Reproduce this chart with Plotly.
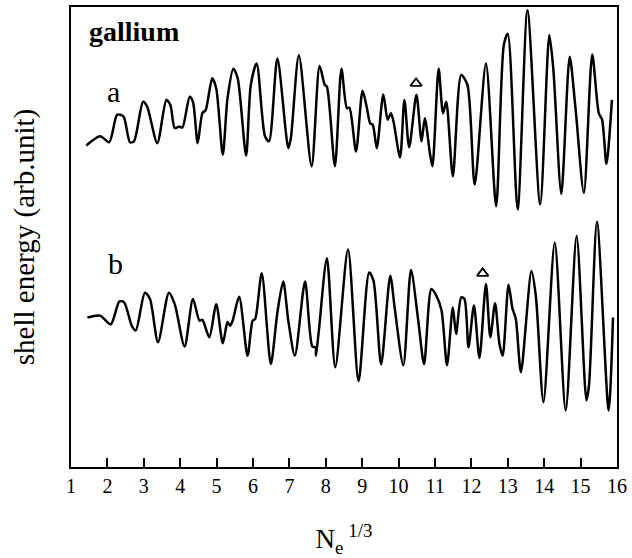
import plotly.graph_objects as go

# curve a: N_e^(1/3) and shell energy (arb. unit)
xa = [1.42, 1.80, 2.05, 2.27, 2.44, 2.62, 2.73, 2.98, 3.09, 3.37, 3.62, 3.73, 3.85, 3.97, 4.06,
      4.26, 4.35, 4.48, 4.61, 4.70, 4.88, 4.99, 5.17, 5.30, 5.46, 5.58, 5.81, 5.94, 6.10, 6.33,
      6.44, 6.67, 6.97, 7.04, 7.26, 7.61, 7.83, 7.97, 8.03, 8.25, 8.43, 8.58, 8.65, 8.83, 9.01,
      9.13, 9.22, 9.29, 9.40, 9.58, 9.70, 9.79, 9.86, 10.04, 10.16, 10.29, 10.49, 10.63, 10.72,
      10.86, 10.93, 11.10, 11.22, 11.31, 11.49, 11.72, 11.89, 12.09, 12.40, 12.68, 12.89, 13.00,
      13.27, 13.54, 13.89, 14.14, 14.25, 14.47, 14.70, 14.86, 15.09, 15.32, 15.50, 15.59, 15.71,
      15.86]
ya = [6.99, 7.19, 7.06, 7.66, 7.62, 7.06, 7.08, 7.94, 7.84, 7.04, 7.98, 7.87, 7.37, 7.40, 7.38,
      8.05, 7.94, 7.04, 7.69, 7.76, 8.45, 8.23, 6.79, 8.02, 8.66, 8.45, 6.77, 8.31, 8.77, 7.19,
      7.08, 8.88, 6.93, 7.15, 8.95, 6.54, 8.72, 8.31, 8.27, 6.54, 8.66, 7.80, 7.81, 6.86, 8.18,
      7.80, 7.47, 7.44, 6.93, 8.10, 7.55, 7.69, 7.51, 6.73, 7.98, 6.95, 8.09, 7.08, 7.58,
      6.82, 6.54, 8.66, 7.69, 7.94, 6.32, 8.52, 8.31, 6.14, 8.77, 5.67, 9.17, 9.42,
      5.60, 9.93, 5.71, 9.39, 8.66, 5.94, 8.92, 7.80, 5.96, 8.97, 7.69, 7.55, 6.59,
      7.98]

# curve b
xb = [1.45, 1.80, 2.09, 2.33, 2.46, 2.67, 2.78, 3.03, 3.17, 3.39, 3.69, 3.85, 4.12, 4.35, 4.53,
      4.61, 4.80, 4.99, 5.17, 5.30, 5.37, 5.44, 5.62, 5.85, 5.99, 6.06, 6.24, 6.49, 6.67, 6.83,
      6.97, 7.15, 7.43, 7.63, 7.72, 7.73, 7.81, 8.03, 8.26, 8.61, 8.90, 9.19, 9.31, 9.52, 9.77,
      9.90, 10.13, 10.34, 10.54, 10.70, 10.90, 11.04, 11.18, 11.33, 11.49, 11.58, 11.72, 11.81,
      11.92, 12.07, 12.22, 12.40, 12.52, 12.65, 12.77, 12.86, 13.02, 13.13, 13.22, 13.36, 13.65,
      13.77, 13.98, 14.29, 14.59, 14.89, 15.16, 15.23, 15.45, 15.77, 15.89]
yb = [3.25, 3.29, 3.10, 3.60, 3.58, 3.07, 2.97, 3.79, 3.65, 2.71, 3.79, 3.54, 2.62, 3.65, 3.18,
      3.20, 2.82, 3.54, 2.69, 3.15, 3.07, 3.18, 3.70, 2.42, 3.18, 3.22, 4.21, 2.24, 3.36, 4.03,
      3.18, 2.42, 4.03, 2.62, 2.60, 2.42, 2.97, 4.54, 2.17, 4.73, 1.87, 4.23, 4.05, 2.23, 4.16,
      3.41, 2.21, 4.28, 3.18, 2.24, 3.87, 3.72, 3.40, 2.21, 3.47, 2.89, 3.69, 3.65,
      2.60, 3.51, 2.37, 3.98, 2.82, 3.56, 2.68, 2.42, 3.96, 3.44, 3.22, 2.06, 4.26,
      3.72, 1.41, 4.88, 1.23, 5.02, 1.45, 1.77, 5.33, 1.23, 3.25]

# triangle markers
tri_x = [10.48, 12.31]
tri_y = [8.34, 4.21]

x_ticks = list(range(1, 17))

SERIF = "Liberation Serif, Times New Roman, serif"

fig = go.Figure()
for xs, ys in ((xa, ya), (xb, yb)):
    fig.add_trace(go.Scatter(x=xs, y=ys, mode="lines",
                             line=dict(color="black", width=2.5, shape="spline", smoothing=0.75),
                             showlegend=False, hoverinfo="skip"))
fig.add_trace(go.Scatter(x=tri_x, y=tri_y, mode="markers",
                         marker=dict(symbol="triangle-up-open", size=10, color="black",
                                     line=dict(width=1.8, color="black")),
                         showlegend=False, hoverinfo="skip"))

fig.add_annotation(x=2.73, y=9.47, xref="x", yref="y", text="<b>gallium</b>", showarrow=False,
                   font=dict(family=SERIF, size=28, color="black"))
fig.add_annotation(x=2.16, y=8.16, xref="x", yref="y", text="a", showarrow=False,
                   font=dict(family=SERIF, size=30, color="black"))
fig.add_annotation(x=2.22, y=4.42, xref="x", yref="y", text="b", showarrow=False,
                   font=dict(family=SERIF, size=30, color="black"))

fig.update_layout(
    width=632, height=558,
    margin=dict(l=71, r=12, t=5, b=91),
    paper_bgcolor="white", plot_bgcolor="white",
    font=dict(family=SERIF, color="black"),
)
fig.update_xaxes(range=[1, 16], tickvals=x_ticks, ticktext=[str(v) for v in x_ticks],
                 ticks="inside", ticklen=9, tickwidth=1.5, tickcolor="black",
                 showline=True, linecolor="black", linewidth=1.8, mirror=True,
                 showgrid=False, zeroline=False,
                 tickfont=dict(family=SERIF, size=20, color="black"),
                 title=dict(text="N<sub>e</sub><sup> 1/3</sup>", standoff=36,
                            font=dict(family=SERIF, size=27, color="black")))
fig.update_yaxes(range=[0, 10], showticklabels=False, ticks="",
                 showline=True, linecolor="black", linewidth=1.8, mirror=True,
                 showgrid=False, zeroline=False,
                 title=dict(text="shell energy (arb.unit)", standoff=26,
                            font=dict(family=SERIF, size=29, color="black")))

fig.write_html("out.html")
